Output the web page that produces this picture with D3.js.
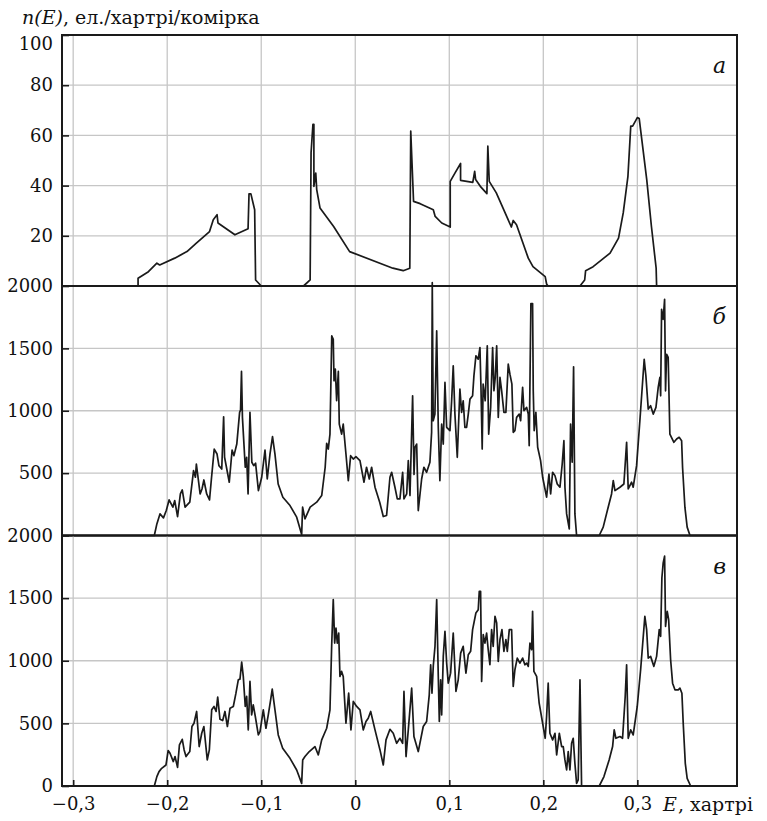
<!DOCTYPE html>
<html lang="uk">
<head>
  <meta charset="UTF-8">
  <title>n(E)</title>
  <script src="https://cdnjs.cloudflare.com/ajax/libs/d3/7.8.5/d3.min.js"></script>
  <style>
    body { margin: 0; background: #fff; }
  </style>
</head>
<body>
  <svg width="767" height="821"></svg>
  <script>
    // energy ticks (hartree) shared by all three panels
    const eTicks = [-0.3, -0.2, -0.1, 0, 0.1, 0.2, 0.3];
    const ticksA = [20, 40, 60, 80, 100];
    const ticksB = [500, 1000, 1500, 2000];
    const ticksC = [0, 500, 1000, 1500, 2000];

    // panel а : [E, n(E)]
    const dosA = [
      [-0.312, 0], [-0.231, 0], [-0.231, 3.1], [-0.220, 5.7], [-0.211, 9.1], [-0.208, 8.4],
      [-0.192, 11.1], [-0.179, 13.7], [-0.169, 17.1], [-0.155, 21.7], [-0.151, 26.4],
      [-0.147, 28.4], [-0.146, 25.1], [-0.128, 20.4], [-0.114, 22.8], [-0.113, 36.7],
      [-0.111, 36.7], [-0.107, 30.4], [-0.106, 2.4], [-0.100, 0], [-0.055, 0], [-0.048, 2.4],
      [-0.047, 53.1], [-0.045, 64.4], [-0.044, 64.4], [-0.044, 39.7], [-0.042, 45],
      [-0.041, 38.4], [-0.0375, 31.1], [-0.023, 23.7], [-0.006, 13.7], [0.040, 7.1],
      [0.051, 6.1], [0.058, 7.1], [0.059, 61.7], [0.062, 33.7], [0.069, 32.8], [0.083, 30.4],
      [0.085, 27.7], [0.092, 25.1], [0.101, 23.5], [0.101, 41.7], [0.106, 45], [0.112, 48.8],
      [0.112, 42.1], [0.125, 41.3], [0.127, 45.7], [0.128, 42.4], [0.133, 39.7], [0.140, 36.8],
      [0.141, 55.7], [0.1425, 41.7], [0.150, 37.1], [0.166, 23.5], [0.168, 26.1],
      [0.1715, 24.4], [0.184, 11.1], [0.189, 7.7], [0.202, 3.7], [0.2035, 0.8], [0.205, 0],
      [0.239, 0], [0.244, 2.4], [0.245, 6.1], [0.253, 7.7], [0.262, 10.4], [0.271, 13.1],
      [0.280, 19.1], [0.285, 29.1], [0.290, 43.7], [0.293, 63.7], [0.295, 63.7], [0.300, 67.1],
      [0.302, 66.7], [0.310, 42.4], [0.315, 23.7], [0.320, 7.1], [0.3205, 0], [0.406, 0]
    ];

    // panel б
    const dosB = [
      [-0.312, 0], [-0.2137, 0], [-0.211, 93], [-0.2077, 173], [-0.204, 141], [-0.201, 200],
      [-0.198, 285], [-0.194, 227], [-0.192, 280], [-0.189, 152], [-0.186, 333], [-0.184, 365],
      [-0.181, 227], [-0.176, 267], [-0.172, 520], [-0.170, 467], [-0.169, 573], [-0.165, 333],
      [-0.163, 373], [-0.161, 445], [-0.158, 333], [-0.155, 285], [-0.153, 453], [-0.150, 693],
      [-0.147, 653], [-0.145, 560], [-0.142, 533], [-0.140, 952], [-0.139, 627], [-0.134, 427],
      [-0.131, 685], [-0.129, 640], [-0.126, 733], [-0.123, 987], [-0.122, 1005], [-0.121, 1315],
      [-0.120, 947], [-0.117, 547], [-0.1155, 627], [-0.114, 333], [-0.112, 987], [-0.110, 587],
      [-0.108, 560], [-0.106, 579], [-0.103, 360], [-0.0995, 467], [-0.096, 685], [-0.0936, 453],
      [-0.0907, 653], [-0.088, 792], [-0.0854, 653], [-0.082, 413], [-0.077, 307], [-0.0694, 240],
      [-0.0623, 147], [-0.057, 8], [-0.056, 227], [-0.0535, 133], [-0.048, 227], [-0.041, 267],
      [-0.0357, 320], [-0.032, 547], [-0.0304, 739], [-0.0287, 693], [-0.0269, 813], [-0.025, 1600],
      [-0.0234, 1573], [-0.0226, 1240], [-0.0212, 1333], [-0.0198, 1080], [-0.018, 1315],
      [-0.017, 893], [-0.0145, 813], [-0.0128, 893], [-0.0099, 653], [-0.0074, 440],
      [-0.0049, 640], [-0.0021, 613], [0.0007, 632], [0.005, 600], [0.0093, 427], [0.012, 547],
      [0.0149, 453], [0.0174, 547], [0.021, 387], [0.026, 267], [0.0298, 152], [0.0333, 160],
      [0.0369, 467], [0.0387, 507], [0.0422, 387], [0.0447, 293], [0.0475, 293], [0.0504, 507],
      [0.0518, 293], [0.0547, 333], [0.0564, 600], [0.0582, 320], [0.061, 1120], [0.0625, 490],
      [0.0635, 707], [0.0653, 733], [0.067, 200], [0.0706, 453], [0.073, 547], [0.0759, 507],
      [0.0794, 587], [0.0812, 827], [0.0819, 2027], [0.0829, 920], [0.0847, 973], [0.0866, 1640],
      [0.0883, 867], [0.090, 440], [0.0919, 893], [0.0936, 733], [0.0954, 1227], [0.0972, 867],
      [0.1007, 840], [0.1025, 1080], [0.1042, 1360], [0.106, 973], [0.1085, 627], [0.1113, 1173],
      [0.1131, 987], [0.1148, 1080], [0.1166, 867], [0.1184, 867], [0.1202, 973], [0.122, 1093],
      [0.1248, 1120], [0.1262, 1280], [0.1283, 1440], [0.1308, 1413], [0.1326, 1507],
      [0.1337, 1187], [0.135, 693], [0.136, 1213], [0.1382, 1080], [0.1404, 1520], [0.1419, 813],
      [0.144, 1027], [0.1461, 1507], [0.1475, 1160], [0.1489, 1267], [0.1504, 1520], [0.1521, 947],
      [0.1539, 1267], [0.1557, 1160], [0.1581, 987], [0.1602, 987], [0.1627, 1373], [0.1645, 1293],
      [0.1666, 1213], [0.168, 827], [0.1698, 840], [0.1716, 947], [0.1744, 973], [0.1759, 920],
      [0.178, 1187], [0.1794, 1000], [0.1823, 1027], [0.184, 973], [0.185, 720], [0.1868, 1859],
      [0.1886, 1859], [0.1893, 1160], [0.1903, 840], [0.1921, 987], [0.194, 707], [0.1971, 600],
      [0.1993, 467], [0.2035, 307], [0.206, 493], [0.2078, 333], [0.2099, 507], [0.2124, 480],
      [0.2148, 413], [0.2177, 387], [0.2201, 573], [0.2219, 760], [0.223, 387], [0.2248, 173],
      [0.2276, 53], [0.229, 893], [0.2307, 587], [0.2322, 1352], [0.2336, 173], [0.2354, 0],
      [0.2595, 0], [0.2637, 67], [0.269, 227], [0.2726, 333], [0.2744, 440], [0.2762, 360],
      [0.2815, 387], [0.2857, 413], [0.2886, 747], [0.2903, 373], [0.2939, 427], [0.2956, 387],
      [0.2992, 560], [0.3027, 920], [0.3073, 1413], [0.3091, 1280], [0.3116, 1013], [0.3141, 1040],
      [0.3169, 973], [0.3198, 1027], [0.3222, 1187], [0.324, 1267], [0.3248, 1120], [0.3258, 1813],
      [0.3275, 1733], [0.329, 1893], [0.330, 1160], [0.3311, 1453], [0.3328, 1427], [0.3346, 813],
      [0.3389, 747], [0.3418, 773], [0.3445, 787], [0.3471, 760], [0.3481, 547], [0.3506, 227],
      [0.353, 67], [0.356, 0], [0.406, 0]
    ];

    // panel в
    const dosC = [
      [-0.312, 0], [-0.2137, 0], [-0.211, 75], [-0.2087, 115], [-0.2059, 141], [-0.2013, 168],
      [-0.199, 283], [-0.197, 261], [-0.1935, 195], [-0.1917, 235], [-0.189, 149], [-0.187, 328],
      [-0.184, 373], [-0.182, 288], [-0.180, 235], [-0.176, 275], [-0.1737, 475], [-0.1715, 501],
      [-0.1687, 595], [-0.166, 315], [-0.1633, 421], [-0.161, 475], [-0.1574, 208], [-0.1552, 288],
      [-0.1527, 608], [-0.1502, 635], [-0.148, 595], [-0.1463, 709], [-0.1439, 533], [-0.141, 523],
      [-0.1386, 595], [-0.136, 475], [-0.1332, 621], [-0.1297, 635], [-0.1269, 741], [-0.1244, 848],
      [-0.1226, 853], [-0.1208, 989], [-0.1191, 875], [-0.117, 635], [-0.1155, 715], [-0.1138, 448],
      [-0.112, 835], [-0.1102, 568], [-0.1085, 648], [-0.1063, 555], [-0.1031, 408], [-0.1013, 435],
      [-0.0978, 608], [-0.095, 461], [-0.0925, 568], [-0.090, 688], [-0.0883, 773], [-0.0854, 608],
      [-0.0819, 408], [-0.0772, 301], [-0.0694, 221], [-0.0623, 128], [-0.057, 21], [-0.0559, 208],
      [-0.0535, 235], [-0.0489, 275], [-0.0429, 315], [-0.0393, 248], [-0.0357, 368],
      [-0.0304, 461], [-0.0269, 608], [-0.0251, 1115], [-0.0234, 1488], [-0.0219, 1141],
      [-0.0205, 1261], [-0.0191, 1141], [-0.0176, 1221], [-0.0163, 875], [-0.0145, 915],
      [-0.0128, 875], [-0.0099, 501], [-0.007, 741], [-0.0046, 448], [-0.0021, 675], [0.0015, 635],
      [0.005, 608], [0.0085, 448], [0.0114, 515], [0.0138, 541], [0.0164, 595], [0.021, 448],
      [0.0263, 288], [0.0298, 168], [0.0327, 368], [0.0369, 453], [0.0404, 421], [0.044, 341],
      [0.0475, 381], [0.0504, 341], [0.0518, 755], [0.054, 235], [0.0564, 448], [0.060, 781],
      [0.0624, 395], [0.067, 275], [0.0723, 475], [0.0759, 515], [0.0787, 728], [0.0802, 968],
      [0.0816, 741], [0.083, 960], [0.0848, 1115], [0.0866, 1488], [0.0883, 875], [0.0894, 515],
      [0.0908, 848], [0.0919, 568], [0.0936, 1035], [0.0954, 1235], [0.0972, 981], [0.0989, 821],
      [0.1014, 901], [0.1042, 1221], [0.1071, 755], [0.1095, 848], [0.1121, 1061], [0.1148, 1115],
      [0.1177, 901], [0.1202, 1048], [0.1227, 1075], [0.1248, 1248], [0.1283, 1381], [0.1308, 1408],
      [0.1319, 1555], [0.1333, 1555], [0.1344, 835], [0.1361, 1208], [0.1379, 1141], [0.1397, 1221],
      [0.1414, 1088], [0.1432, 968], [0.145, 1248], [0.1467, 1115], [0.1486, 1355], [0.1504, 1301],
      [0.1521, 995], [0.1539, 1168], [0.156, 1248], [0.1581, 1075], [0.1602, 1168], [0.1617, 1075],
      [0.1638, 1248], [0.1663, 1248], [0.168, 795], [0.1698, 928], [0.1723, 1021], [0.1751, 981],
      [0.178, 1021], [0.1804, 968], [0.1823, 981], [0.184, 955], [0.1858, 1141], [0.1876, 1088],
      [0.1886, 1395], [0.190, 915], [0.1929, 875], [0.1956, 661], [0.1993, 501], [0.202, 381],
      [0.2035, 555], [0.2052, 821], [0.207, 421], [0.2099, 368], [0.2124, 421], [0.2142, 248],
      [0.217, 421], [0.2195, 315], [0.2212, 315], [0.223, 208], [0.2248, 128], [0.2265, 275],
      [0.2283, 128], [0.2301, 341], [0.2318, 381], [0.2336, 181], [0.2354, 21], [0.2371, 48],
      [0.239, 848], [0.2407, 0], [0.2595, 0], [0.2645, 75], [0.270, 208], [0.2737, 315],
      [0.2754, 448], [0.2772, 381], [0.2815, 395], [0.2843, 381], [0.2871, 715], [0.2886, 968],
      [0.2903, 381], [0.2929, 448], [0.2956, 408], [0.2999, 635], [0.3035, 928], [0.308, 1355],
      [0.3099, 1248], [0.3116, 1021], [0.3141, 1035], [0.3176, 955], [0.3205, 1035], [0.3233, 1248],
      [0.3248, 1195], [0.3261, 1661], [0.3275, 1781], [0.329, 1835], [0.330, 1275], [0.3318, 1395],
      [0.3333, 1328], [0.3354, 1008], [0.3375, 821], [0.340, 768], [0.3435, 768], [0.3453, 781],
      [0.3474, 741], [0.3488, 501], [0.351, 181], [0.353, 61], [0.3567, 0], [0.406, 0]
    ];

    const svg = d3.select("svg");
    const serif = "'DejaVu Serif', 'Liberation Serif', serif";
    const left = 62, right = 737;

    const x = d3.scaleLinear().domain([-0.3119, 0.406]).range([left, right]);

    const panels = [
      { data: dosA, max: 100, ticks: ticksA, top: 35, bottom: 286, label: "а" },
      { data: dosB, max: 2000, ticks: ticksB, top: 286, bottom: 535.5, label: "б" },
      { data: dosC, max: 2000, ticks: ticksC, top: 535.5, bottom: 786, label: "в" }
    ];

    const fmt = d => d === 0 ? "0" : d3.format(".1f")(d).replace(".", ",").replace("-", "\u2212");

    panels.forEach((p, i) => {
      const y = d3.scaleLinear().domain([0, p.max]).range([p.bottom, p.top]);
      const g = svg.append("g");

      // grid
      g.append("g").selectAll("line")
        .data(p.ticks.filter(t => t > 0 && t < p.max))
        .enter().append("line")
        .attr("x1", left).attr("x2", right)
        .attr("y1", d => y(d)).attr("y2", d => y(d))
        .attr("stroke", "#c6c6c6").attr("stroke-width", 1.3);

      g.append("g").selectAll("line")
        .data(eTicks.filter(t => x(t) > left + 2))
        .enter().append("line")
        .attr("x1", d => x(d)).attr("x2", d => x(d))
        .attr("y1", p.top).attr("y2", p.bottom)
        .attr("stroke", "#c6c6c6").attr("stroke-width", 1.3);

      // curve
      const line = d3.line().x(d => x(d[0])).y(d => y(d[1]));
      g.append("path")
        .datum(p.data)
        .attr("d", line)
        .attr("fill", "none")
        .attr("stroke", "#1a1a1a")
        .attr("stroke-width", 1.7)
        .attr("stroke-linejoin", "round");

      // frame
      g.append("rect")
        .attr("x", left).attr("y", p.top)
        .attr("width", right - left).attr("height", p.bottom - p.top)
        .attr("fill", "none").attr("stroke", "#1a1a1a").attr("stroke-width", 2);

      // left axis, ticks pointing inward
      const ax = g.append("g")
        .attr("transform", `translate(${left},0)`)
        .call(d3.axisLeft(y).tickValues(p.ticks).tickFormat(d3.format("d")).tickSize(-7).tickPadding(9));
      ax.select(".domain").remove();
      ax.selectAll("line").attr("stroke", "#1a1a1a").attr("stroke-width", 1.6);
      ax.selectAll("text").attr("fill", "#111")
        .style("font-family", serif).style("font-size", "18px");
      // top label of the top panel sits just under the frame
      if (i === 0) ax.selectAll("text").filter(d => d === p.max).attr("dy", "0.82em");

      g.append("text")
        .attr("x", 726).attr("y", p.top + 38)
        .attr("text-anchor", "end")
        .attr("fill", "#111")
        .style("font-family", serif).style("font-size", "22px").style("font-style", "italic")
        .text(p.label);
    });

    // bottom axis
    const bx = svg.append("g")
      .attr("transform", "translate(0,786)")
      .call(d3.axisBottom(x).tickValues(eTicks).tickFormat(fmt).tickSize(-6).tickPadding(11));
    bx.select(".domain").remove();
    bx.selectAll("line").attr("stroke", "#1a1a1a").attr("stroke-width", 1.6);
    bx.selectAll("text").attr("fill", "#111")
      .style("font-family", serif).style("font-size", "18px");

    // axis titles: italic symbol and upright units as separate texts
    function title(xPos, yPos, sym, rest) {
      const a = svg.append("text").attr("x", xPos).attr("y", yPos).attr("fill", "#111")
        .style("font-family", serif).style("font-size", "19px").style("font-style", "italic")
        .text(sym);
      const w = a.node().getBBox().width;
      svg.append("text").attr("x", xPos + w).attr("y", yPos).attr("fill", "#111")
        .style("font-family", serif).style("font-size", "19px")
        .text(rest);
    }
    title(22, 24, "n(E)", ", ел./хартрі/комірка");
    title(663, 811, "E", ", хартрі");
  </script>
</body>
</html>
